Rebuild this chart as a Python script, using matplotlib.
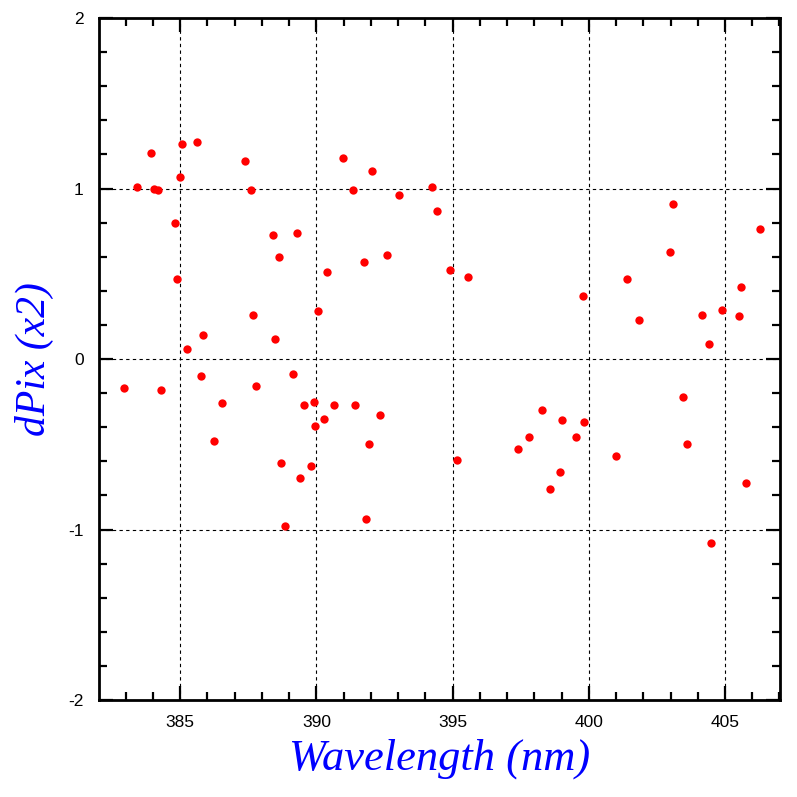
import matplotlib
matplotlib.use('Agg')
import matplotlib.pyplot as plt
from matplotlib.ticker import MultipleLocator

plt.rcParams['axes.unicode_minus'] = False

# 波长 (nm) 与 dPix 读数
wavelength = [382.94, 383.42, 383.93, 384.04, 384.19, 384.30, 384.82, 384.89, 385.00, 385.07,
              385.26, 385.63, 385.77, 385.85, 386.25, 386.54, 387.39, 387.61, 387.68, 387.79,
              388.42, 388.49, 388.64, 388.71, 388.86, 389.15, 389.30, 389.41, 389.56, 389.82,
              389.93, 389.96, 390.07, 390.29, 390.40, 390.66, 390.99, 391.36, 391.43, 391.73,
              391.84, 391.95, 392.06, 392.32, 392.61, 393.05, 394.26, 394.41, 394.89, 395.15,
              395.55, 397.39, 397.79, 398.27, 398.57, 398.93, 399.01, 399.52, 399.78, 399.82,
              400.99, 401.40, 401.84, 402.98, 403.09, 403.46, 403.60, 404.15, 404.41, 404.49,
              404.89, 405.51, 405.59, 405.77, 406.29]
dpix = [-0.17, 1.01, 1.21, 1.00, 0.99, -0.18, 0.80, 0.47, 1.07, 1.26,
        0.06, 1.27, -0.10, 0.14, -0.48, -0.26, 1.16, 0.99, 0.26, -0.16,
        0.73, 0.12, 0.60, -0.61, -0.98, -0.09, 0.74, -0.70, -0.27, -0.63,
        -0.25, -0.39, 0.28, -0.35, 0.51, -0.27, 1.18, 0.99, -0.27, 0.57,
        -0.94, -0.50, 1.10, -0.33, 0.61, 0.96, 1.01, 0.87, 0.52, -0.59,
        0.48, -0.53, -0.46, -0.30, -0.76, -0.66, -0.36, -0.46, 0.37, -0.37,
        -0.57, 0.47, 0.23, 0.63, 0.91, -0.22, -0.50, 0.26, 0.09, -1.08,
        0.29, 0.25, 0.42, -0.73, 0.76]

fig = plt.figure(figsize=(7.97, 7.97), dpi=100)
ax = fig.add_axes([0.1242, 0.1217, 0.8545, 0.8557])

ax.plot(wavelength, dpix, 'o', color='red', markersize=6, markeredgewidth=0)

ax.set_xlim(382.02, 407.02)
ax.set_ylim(-2, 2)
ax.xaxis.set_major_locator(MultipleLocator(5))
ax.xaxis.set_minor_locator(MultipleLocator(1))
ax.yaxis.set_major_locator(MultipleLocator(1))
ax.yaxis.set_minor_locator(MultipleLocator(0.2))

ax.grid(True, which='major', color='black', linestyle=(0, (3, 3)), linewidth=0.8)
ax.tick_params(which='both', direction='in', top=True, right=True, width=1.6,
               labelsize=12.5, pad=11)
ax.tick_params(which='major', length=10)
ax.tick_params(which='minor', length=6)
for s in ax.spines.values():
    s.set_linewidth(2)

for lab in ax.get_xticklabels() + ax.get_yticklabels():
    lab.set_family('Liberation Sans')

ax.set_xlabel('Wavelength (nm)', family='Liberation Serif', style='italic',
              color='blue', fontsize=32, labelpad=6)
ax.set_ylabel('dPix (x2)', family='Liberation Serif', style='italic',
              color='blue', fontsize=30, labelpad=10)

plt.savefig('out.png', dpi=100)
